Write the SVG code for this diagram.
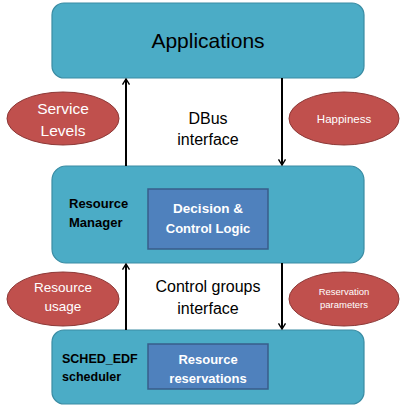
<svg xmlns="http://www.w3.org/2000/svg" width="400" height="407" viewBox="0 0 400 407">
<style>
.box{fill:#4BACC6;stroke:#3A8CA3;stroke-width:1.2}
.inner{fill:#4F81BD;stroke:#385D8A;stroke-width:1.5}
.ell{fill:#C0504D;stroke:#8C3836;stroke-width:1}
.t{font-family:"Liberation Sans",Arial,sans-serif;text-anchor:middle}
.s{text-anchor:start}
.w{fill:#FFFFFF}
.k{fill:#000000}
.b{font-weight:bold}
.line{stroke:#000;stroke-width:2;fill:none}
</style>
<defs>
<marker id="ah" viewBox="0 0 10 12" refX="9" refY="6" markerWidth="7" markerHeight="10" orient="auto" markerUnits="userSpaceOnUse">
<path d="M1,1 L9,6 L1,11" fill="none" stroke="#000" stroke-width="2"/>
</marker>
</defs>
<rect width="400" height="407" fill="#FFFFFF"/>
<g id="applications">
<rect class="box" x="52" y="3" width="312" height="75" rx="12"/>
<text class="t k" x="208" y="48" font-size="21">Applications</text>
</g>
<g id="resource-manager">
<rect class="box" x="52" y="166" width="312" height="97" rx="14"/>
<text class="t s k b" x="69" y="208" font-size="13">Resource</text>
<text class="t s k b" x="69" y="227" font-size="13">Manager</text>
</g>
<g id="decision-control">
<rect class="inner" x="148" y="189" width="120" height="60"/>
<text class="t w b" x="208" y="213" font-size="13.5">Decision &amp;</text>
<text class="t w b" x="208" y="233" font-size="13">Control Logic</text>
</g>
<g id="sched-edf">
<rect class="box" x="52" y="330" width="312" height="74" rx="12"/>
<text class="t s k b" x="62" y="363" font-size="12.5">SCHED_EDF</text>
<text class="t s k b" x="62" y="381" font-size="12.5">scheduler</text>
</g>
<g id="resource-reservations">
<rect class="inner" x="148" y="344" width="120" height="45"/>
<text class="t w b" x="208" y="364" font-size="13">Resource</text>
<text class="t w b" x="208" y="383" font-size="13">reservations</text>
</g>
<g id="service-levels">
<ellipse class="ell" cx="63" cy="118.5" rx="56" ry="26.5"/>
<text class="t w" x="63" y="114" font-size="15.5">Service</text>
<text class="t w" x="63" y="136" font-size="15.5">Levels</text>
</g>
<g id="happiness">
<ellipse class="ell" cx="344" cy="118.5" rx="55" ry="26.5"/>
<text class="t w" x="344" y="123" font-size="11.5">Happiness</text>
</g>
<g id="resource-usage">
<ellipse class="ell" cx="63" cy="299" rx="56" ry="27"/>
<text class="t w" x="63" y="292" font-size="13.5">Resource</text>
<text class="t w" x="63" y="311" font-size="13.5">usage</text>
</g>
<g id="reservation-parameters">
<ellipse class="ell" cx="344" cy="299" rx="55" ry="27"/>
<text class="t w" x="344" y="295" font-size="9.5">Reservation</text>
<text class="t w" x="344" y="308" font-size="9.5">parameters</text>
</g>
<g id="connectors">
<line class="line" x1="126" y1="166" x2="126" y2="79" marker-end="url(#ah)"/>
<line class="line" x1="282" y1="78" x2="282" y2="165" marker-end="url(#ah)"/>
<line class="line" x1="126" y1="330" x2="126" y2="264" marker-end="url(#ah)"/>
<line class="line" x1="282" y1="263" x2="282" y2="329" marker-end="url(#ah)"/>
<text class="t k" x="208" y="124" font-size="16">DBus</text>
<text class="t k" x="208" y="145" font-size="16">interface</text>
<text class="t k" x="208" y="292" font-size="16">Control groups</text>
<text class="t k" x="208" y="314" font-size="16">interface</text>
</g>
</svg>
